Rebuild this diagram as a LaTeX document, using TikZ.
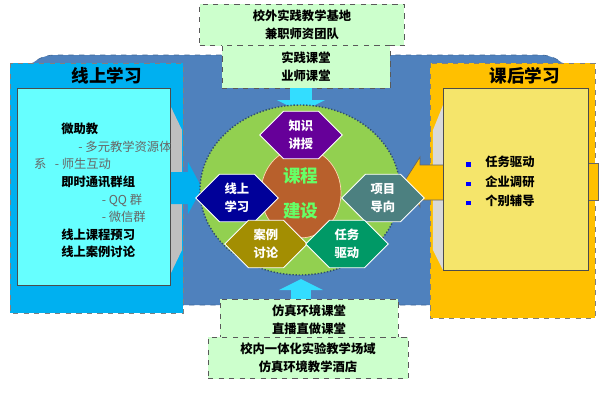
\documentclass[tikz,border=0pt]{standalone}
\usepackage{fontspec}
\setmainfont{Noto Sans CJK SC}
\usetikzlibrary{shapes.symbols,shapes.geometric}
\definecolor{bgblue}{HTML}{4F81BD}
\definecolor{leftcyan}{HTML}{00B0F0}
\definecolor{leftin}{HTML}{66FFFF}
\definecolor{rightorg}{HTML}{FFC000}
\definecolor{rightin}{HTML}{F5E56B}
\definecolor{palegreen}{HTML}{CCFFCC}
\definecolor{ballgreen}{HTML}{92D050}
\definecolor{arrcyan}{HTML}{33DDFF}
\definecolor{corebrown}{HTML}{B8602C}
\newcommand{\bulletsq}{{\color{blue}\rule{2.5pt}{2.5pt}}}
\tikzset{
  greenbox/.style={draw=gray!70!black, dashed, fill=palegreen},
  boxtext/.style={font=\fontsize{7}{10}\selectfont\bfseries, align=center},
  hexa/.style={signal, signal to=west and east, draw=white, line width=0.5pt,
    minimum width=1.65cm, minimum height=0.95cm, text=white,
    font=\fontsize{7}{10}\selectfont\bfseries, align=center, inner sep=1pt}
}
\begin{document}
\begin{tikzpicture}[x=0.02cm, y=-0.02cm]
  \useasboundingbox (0,0) rectangle (600,400);
  % background
  \draw[bgblue!80!black, dashed, fill=bgblue, rounded corners=20] (20,55) rectangle (575,305);

  % left box
  \draw[gray, dashed, fill=leftcyan] (10,63) rectangle (183,313);
  \node[boxtext, font=\fontsize{10}{12}\selectfont\bfseries] (lt) at (107,76) {线上学习};
  \fill[gray!50] (170,105) -- (182,130) -- (182,250) -- (170,275) -- cycle;
  \fill[leftcyan] (17,162) rectangle (20,210);
  \fill[leftcyan] (170,172) -- (188,172) -- (188,162) -- (202,188) -- (188,214) -- (188,204) -- (170,204) -- cycle;
  \draw[black!70, fill=leftin] (17,88) rectangle (170,285);
  \node[font=\fontsize{7}{10}\selectfont, anchor=north west, align=left] (ltext) at (28,117)
    {\hspace*{2.2em}\textbf{微助教}\\
     \hspace*{3.6em}{\color{black!60}-\ 多元教学资源体}\\
     {\color{black!60}系\ \ \ -\ 师生互动}\\
     \hspace*{2.2em}\textbf{即时通讯群组}\\
     \hspace*{5.5em}{\color{black!60}- QQ 群}\\
     \hspace*{5.5em}{\color{black!60}-\ 微信群}\\
     \hspace*{2.2em}\textbf{线上课程预习}\\
     \hspace*{2.2em}\textbf{线上案例讨论}};

  % right box
  \draw[gray, dashed, fill=rightorg] (430,63) rectangle (595,318);
  \node[boxtext, font=\fontsize{10}{12}\selectfont\bfseries] (rt) at (525,76) {课后学习};
  \fill[gray!30] (443,105) -- (433,130) -- (433,250) -- (443,270) -- cycle;
  \draw[black!60, fill=rightorg] (586,163) rectangle (598,200);
  \draw[black!60, fill=rightorg] (445,165) -- (420,165) -- (420,157) -- (404,182) -- (420,207) -- (420,200) -- (445,200);
  \draw[black!70, fill=rightin] (443,88) rectangle (588,270);
  \node[font=\fontsize{7}{11}\selectfont\bfseries, anchor=north west, align=left] (rtext) at (460,150)
    {\bulletsq\hspace{1.2em}任务驱动\\
     \bulletsq\hspace{1.2em}企业调研\\
     \bulletsq\hspace{1.2em}个别辅导};

  % top
  \node[greenbox, minimum width=4.1cm, minimum height=0.8cm, boxtext] (top1) at (302,25) {校外实践教学基地\\兼职师资团队};
  \node[greenbox, minimum width=3.36cm, minimum height=0.86cm, boxtext, anchor=north] (top2) at (306,45) {实践课堂\\业师课堂};
  \fill[arrcyan] (290,88) rectangle (312,100);
  \fill[arrcyan] (277,100) -- (325,100) -- (301,112) -- cycle;

  % bottom
  \fill[arrcyan] (291,290) rectangle (311,302);
  \fill[arrcyan] (279,290) -- (323,290) -- (301,279) -- cycle;
  \node[greenbox, minimum width=3.56cm, minimum height=0.72cm, boxtext] (bot1) at (309,320) {仿真环境课堂\\直播直做课堂};
  \node[greenbox, minimum width=4cm, minimum height=0.8cm, boxtext] (bot2) at (308,358) {校内一体化实验教学场域\\仿真环境教学酒店};

  % center
  \draw[bgblue!60!black, densely dotted, thick, fill=ballgreen] (300,190) ellipse (100 and 85);
  \node[ellipse, draw=white!70!orange, fill=corebrown, minimum width=1.6cm, minimum height=1.72cm,
    text=green!60!white, font=\fontsize{10}{20}\selectfont\bfseries, align=center] (core) at (301,193) {课程\\建设};
  \node[hexa, fill=violet!80!blue] (h1) at (301,135) {知识\\讲授};
  \node[hexa, fill=blue!60!black] (h2) at (237,198) {线上\\学习};
  \node[hexa, fill=teal!40!gray] (h3) at (383,198) {项目\\导向};
  \node[hexa, fill=olive!80!orange] (h4) at (266,244) {案例\\讨论};
  \node[hexa, fill=teal!80!green] (h5) at (347,244) {任务\\驱动};
\end{tikzpicture}
\end{document}
